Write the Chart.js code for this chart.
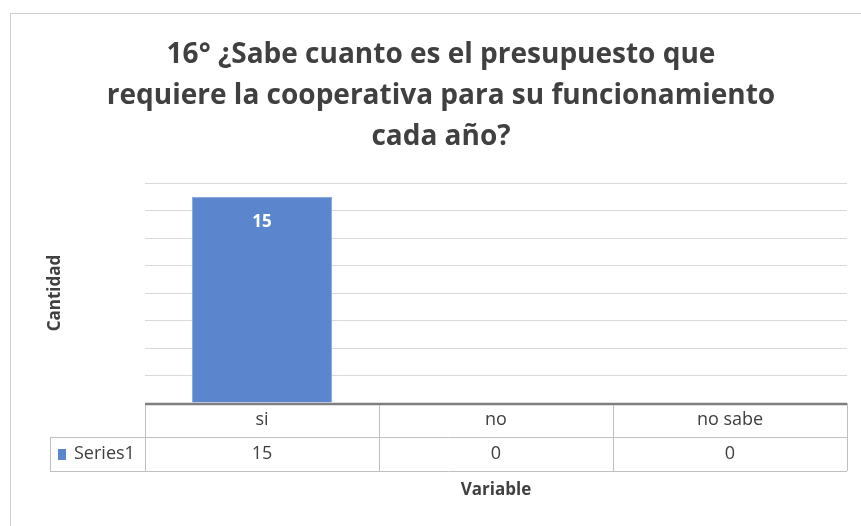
<!DOCTYPE html>
<html>
<head>
<meta charset="utf-8">
<script src="https://cdn.jsdelivr.net/npm/chart.js@4"></script>
<style>
  html, body { margin: 0; padding: 0; background: #fff; }
  #chart { display: block; }
</style>
</head>
<body>
<canvas id="chart" width="861" height="526"></canvas>
<script>
// data
const categories = ['si', 'no', 'no sabe'];
const seriesName = 'Series1';
const seriesValues = [15, 0, 0];
const yMax = 16;
const yStep = 2;
const titleLines = [
    '16° ¿Sabe cuanto es el presupuesto que',
    'requiere la cooperativa para su funcionamiento',
    'cada año?'
];
const xTitle = 'Variable';
const yTitle = 'Cantidad';

const FONT = '"Open Sans", "Noto Sans", sans-serif';
const TEXT = '#404040';
const BAR = '#5b86cd';
const LINE = '#bfbfbf';

Chart.defaults.font.family = FONT;

// title, data table, axis titles, labels and frame (excel style)
const excelBits = {
    id: 'excelBits',
    afterDraw(chart) {
        const ctx = chart.ctx;
        const area = chart.chartArea;
        const x = chart.scales.x;
        const y = chart.scales.y;
        const colW = (area.right - area.left) / categories.length;
        const rowH = 34;
        const top = area.bottom;

        ctx.save();

        // outer frame
        ctx.strokeStyle = '#d0d0d0';
        ctx.lineWidth = 1;
        ctx.strokeRect(10.5, 13.5, 900, 600);

        // title, centred on the whole chart box
        ctx.fillStyle = TEXT;
        ctx.font = 'bold 28px ' + FONT;
        ctx.textAlign = 'center';
        ctx.textBaseline = 'alphabetic';
        titleLines.forEach((t, i) => {
            ctx.fillText(t, 441, 63 + i * 41);
        });

        // data labels
        ctx.fillStyle = '#ffffff';
        ctx.font = 'bold 17px ' + FONT;
        ctx.textBaseline = 'middle';
        seriesValues.forEach((v, i) => {
            ctx.fillText(String(v), x.getPixelForValue(i), y.getPixelForValue(v) + 25);
        });

        // table grid
        ctx.strokeStyle = LINE;
        ctx.lineWidth = 1;
        ctx.beginPath();
        for (let i = 0; i <= categories.length; i++) {
            const px = Math.round(area.left + i * colW) + 0.5;
            ctx.moveTo(px, top);
            ctx.lineTo(px, top + rowH * 2);
        }
        ctx.moveTo(50, top + rowH + 0.5);
        ctx.lineTo(area.right, top + rowH + 0.5);
        ctx.moveTo(50, top + rowH * 2 + 0.5);
        ctx.lineTo(area.right, top + rowH * 2 + 0.5);
        ctx.moveTo(50.5, top + rowH);
        ctx.lineTo(50.5, top + rowH * 2);
        ctx.stroke();

        // thick top border of table (axis line)
        ctx.strokeStyle = '#7f7f7f';
        ctx.lineWidth = 2.5;
        ctx.beginPath();
        ctx.moveTo(area.left, top + 1);
        ctx.lineTo(area.right, top + 1);
        ctx.stroke();

        // table text
        ctx.fillStyle = TEXT;
        ctx.font = '18px ' + FONT;
        categories.forEach((c, i) => {
            const cx = x.getPixelForValue(i);
            ctx.fillText(c, cx, top + rowH / 2);
            ctx.fillText(String(seriesValues[i]), cx, top + rowH * 1.5);
        });

        // legend key
        ctx.fillStyle = BAR;
        ctx.fillRect(58, top + rowH * 1.5 - 5, 8, 11);
        ctx.fillStyle = TEXT;
        ctx.textAlign = 'left';
        ctx.fillText(seriesName, 74, top + rowH * 1.5);

        // axis titles
        ctx.font = 'bold 17px ' + FONT;
        ctx.textAlign = 'center';
        ctx.fillText(xTitle, (area.left + area.right) / 2, 490);

        ctx.translate(55, (area.top + area.bottom) / 2);
        ctx.rotate(-Math.PI / 2);
        ctx.fillText(yTitle, 0, 0);

        ctx.restore();
    }
};

new Chart(document.getElementById('chart'), {
    type: 'bar',
    data: {
        labels: categories,
        datasets: [{
            label: seriesName,
            data: seriesValues,
            backgroundColor: BAR,
            borderColor: '#7fa3dd',
            borderWidth: 1,
            categoryPercentage: 0.6,
            barPercentage: 1
        }]
    },
    options: {
        responsive: false,
        animation: false,
        layout: {
            padding: { left: 145, right: 14, top: 183, bottom: 123 }
        },
        plugins: {
            legend: { display: false },
            tooltip: { enabled: false }
        },
        scales: {
            x: {
                display: false
            },
            y: {
                min: 0,
                max: yMax,
                ticks: { display: false, stepSize: yStep },
                grid: { color: '#d9d9d9', drawTicks: false },
                border: { display: false }
            }
        }
    },
    plugins: [excelBits]
});
</script>
</body>
</html>
